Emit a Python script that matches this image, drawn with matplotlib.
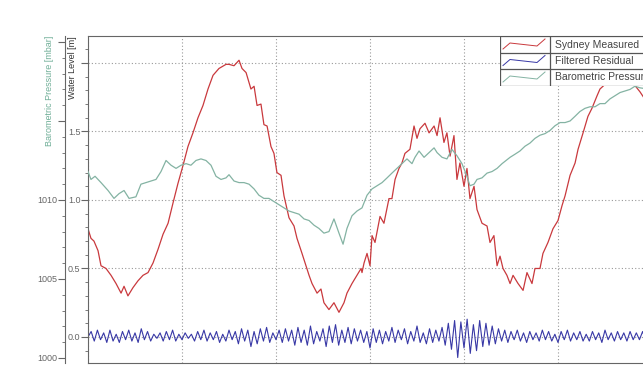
import numpy as np
import matplotlib
matplotlib.use('Agg')
import matplotlib.pyplot as plt
from matplotlib.ticker import MultipleLocator, FuncFormatter

# Sydney measured water level [m], time in hours
sydney_t = [0.00, 0.19, 0.38, 0.64, 0.83, 1.15, 1.47, 1.79, 2.11, 2.30, 2.55, 2.87, 3.19, 3.51,
            3.83, 4.15, 4.47, 4.79, 5.11, 5.43, 5.74, 6.06, 6.38, 6.70, 7.02, 7.34, 7.66, 7.98,
            8.36, 8.81, 9.00, 9.32, 9.64, 9.83, 10.09, 10.40, 10.60, 10.79, 11.04, 11.23, 11.43,
            11.68, 11.87, 12.06, 12.32, 12.51, 12.83, 13.15, 13.34, 13.66, 13.91, 14.11, 14.30,
            14.62, 14.87, 15.06, 15.38, 15.70, 16.02, 16.34, 16.53, 16.85, 17.17, 17.43, 17.49,
            17.62, 17.81, 18.00, 18.13, 18.32, 18.64, 18.89, 19.21, 19.40, 19.60, 19.85, 20.04,
            20.23, 20.55, 20.81, 21.00, 21.19, 21.51, 21.77, 22.09, 22.28, 22.47, 22.72, 22.91,
            23.11, 23.36, 23.55, 23.74, 24.00, 24.19, 24.38, 24.64, 24.83, 25.15, 25.47, 25.66,
            25.91, 26.11, 26.30, 26.49, 26.74, 26.94, 27.13, 27.45, 27.77, 28.02, 28.34, 28.53,
            28.85, 29.04, 29.36, 29.68, 30.00, 30.26, 30.45, 30.77, 31.09, 31.28, 31.60, 31.91,
            32.17, 32.49, 32.68, 32.87, 33.32, 33.96, 34.60, 35.23, 35.87]
sydney = [0.79, 0.72, 0.70, 0.63, 0.52, 0.50, 0.45, 0.39, 0.32, 0.37, 0.30, 0.36, 0.41, 0.45,
          0.47, 0.54, 0.64, 0.75, 0.83, 0.98, 1.12, 1.25, 1.39, 1.49, 1.60, 1.69, 1.81, 1.91,
          1.96, 1.99, 1.99, 1.98, 2.02, 1.96, 1.93, 1.81, 1.83, 1.69, 1.70, 1.55, 1.54,
          1.39, 1.34, 1.20, 1.18, 1.03, 0.87, 0.81, 0.72, 0.61, 0.52, 0.45, 0.39,
          0.32, 0.35, 0.25, 0.20, 0.25, 0.18, 0.25, 0.32, 0.39, 0.45, 0.50, 0.47,
          0.54, 0.61, 0.52, 0.74, 0.69, 0.88, 0.83, 1.01, 1.01, 1.15, 1.23, 1.27,
          1.34, 1.37, 1.54, 1.45, 1.52, 1.56, 1.49, 1.54, 1.47, 1.60, 1.42, 1.49,
          1.32, 1.47, 1.15, 1.27, 1.10, 1.23, 1.01, 1.10, 0.93, 0.83, 0.81, 0.69,
          0.74, 0.52, 0.59, 0.50, 0.45, 0.39, 0.45, 0.39, 0.34, 0.47, 0.39, 0.50,
          0.50, 0.61, 0.69, 0.79, 0.85, 0.96, 1.03, 1.18, 1.27, 1.37, 1.49, 1.61,
          1.67, 1.76, 1.81, 1.83, 1.88, 1.89, 1.88, 1.79, 1.68]

# Barometric pressure [mbar]
baro_t = [0.00, 0.19, 0.45, 0.83, 1.28, 1.66, 1.98, 2.30, 2.62, 3.06, 3.38, 3.70, 4.02, 4.34,
          4.66, 4.98, 5.30, 5.62, 5.94, 6.26, 6.57, 6.89, 7.21, 7.53, 7.85, 8.17, 8.49, 8.81,
          9.00, 9.32, 9.64, 9.96, 10.28, 10.60, 10.91, 11.23, 11.55, 11.87, 12.19, 12.51,
          12.83, 13.15, 13.47, 13.79, 14.11, 14.43, 14.74, 15.06, 15.38, 15.70, 16.02, 16.28,
          16.53, 16.85, 17.17, 17.49, 17.81, 18.13, 18.45, 18.77, 19.09, 19.40, 19.72, 20.04,
          20.36, 20.68, 20.87, 21.13, 21.45, 21.77, 22.09, 22.28, 22.60, 22.91, 23.23, 23.55,
          23.87, 24.19, 24.38, 24.64, 24.83, 25.15, 25.47, 25.79, 26.11, 26.43, 26.94, 27.26,
          27.57, 27.89, 28.21, 28.53, 28.85, 29.17, 29.49, 29.81, 30.13, 30.45, 30.77, 31.09,
          31.40, 31.72, 32.04, 32.36, 32.68, 33.00, 33.32, 33.64, 33.96, 34.28, 34.60, 34.91,
          35.23, 35.87]
baro = [1011.8, 1011.3, 1011.5, 1011.1, 1010.6, 1010.1, 1010.4, 1010.6, 1010.1, 1010.2, 1011.0,
        1011.1, 1011.2, 1011.3, 1011.8, 1012.5, 1012.2, 1012.0, 1012.2, 1012.3, 1012.2, 1012.5,
        1012.6, 1012.5, 1012.2, 1011.5, 1011.3, 1011.4, 1011.6, 1011.2, 1011.1, 1011.1, 1011.0,
        1010.7, 1010.3, 1010.1, 1010.1, 1009.9, 1009.7, 1009.5, 1009.3, 1009.2, 1009.1, 1008.8,
        1008.7, 1008.4, 1008.2, 1007.9, 1008.0, 1008.8, 1007.9, 1007.2, 1008.2, 1009.0, 1009.3,
        1009.5, 1010.3, 1010.7, 1010.9, 1011.1, 1011.4, 1011.7, 1012.0, 1012.3, 1012.6, 1012.3,
        1012.7, 1013.1, 1012.7, 1013.0, 1013.3, 1013.0, 1012.7, 1012.6, 1013.2, 1012.8, 1012.3,
        1011.5, 1010.9, 1011.0, 1011.3, 1011.4, 1011.7, 1011.8, 1012.0, 1012.3, 1012.7, 1012.9,
        1013.1, 1013.4, 1013.6, 1013.9, 1014.1, 1014.2, 1014.4, 1014.7, 1014.9, 1014.9, 1015.0,
        1015.3, 1015.6, 1015.8, 1015.9, 1015.9, 1016.1, 1016.1, 1016.4, 1016.6, 1016.8, 1016.9,
        1017.0, 1017.2, 1017.1, 1017.0]

# Filtered residual [m], one value every 0.2 h
residual = [0.00, 0.04, -0.03, 0.05, -0.02, 0.03, -0.04, 0.05, -0.03, 0.02, -0.04, 0.04, -0.02,
            0.05, -0.03, 0.03, -0.04, 0.06, -0.02, 0.04, -0.03, 0.02, -0.01, 0.03, -0.03, 0.04,
            -0.02, 0.05, -0.03, 0.02, -0.02,
            0.03, -0.01, 0.02, -0.03, 0.04, -0.02, 0.05, -0.03, 0.03, -0.02, 0.04, -0.04, 0.02,
            -0.03, 0.05, -0.02, 0.04, -0.05, 0.06, -0.03, 0.05, -0.07, 0.04, -0.05, 0.06, -0.03,
            0.07, -0.04, 0.03, -0.02,
            0.05, -0.04, 0.06, -0.03, 0.05, -0.06, 0.07, -0.04, 0.05, -0.06, 0.08, -0.05, 0.04,
            -0.03, 0.06, -0.07, 0.08, -0.04, 0.09, -0.06, 0.05, -0.04, 0.07, -0.05, 0.06, -0.03,
            0.05, -0.04, 0.04, -0.08,
            0.06, -0.04, 0.05, -0.05, 0.04, -0.03, 0.07, -0.04, 0.05, -0.02, 0.06, -0.05, 0.04,
            -0.03, 0.08, -0.04, 0.03, -0.05, 0.06, -0.04, 0.05, -0.03, 0.07, -0.06,
            0.10, -0.09, 0.12, -0.15, 0.11, -0.08, 0.13, -0.12, 0.09, -0.10, 0.12, -0.07, 0.10,
            -0.06, 0.08, -0.05,
            0.06, -0.03, 0.05, -0.04, 0.04, -0.02, 0.05, -0.03, 0.03, -0.04, 0.04, -0.02, 0.03,
            -0.03, 0.05, -0.02, 0.04, -0.03, 0.02, -0.04, 0.04, -0.02, 0.05, -0.03, 0.03, -0.02,
            0.04, -0.03, 0.02, -0.03, 0.04, -0.02, 0.03, -0.04, 0.05, -0.02, 0.03, -0.03, 0.04,
            -0.02, 0.03, -0.03, 0.04, -0.02, 0.03, -0.02, 0.04, -0.03, 0.03, -0.02]
residual_t = np.arange(len(residual)) * 0.2

labels = ['Sydney Measured', 'Filtered Residual', 'Barometric Pressure']
red, blue, teal = '#c9393d', '#3838a6', '#84b3a3'
grey = '#666666'

plt.rcParams['font.family'] = ['Liberation Sans', 'DejaVu Sans']
W, H = 643, 365
fig = plt.figure(figsize=(W / 100, H / 100), dpi=100)
ax = fig.add_axes([88 / W, 2 / H, (720 - 88) / W, (363 - 36) / H])

ax.plot(sydney_t, sydney, color=red, lw=0.9)
ax.plot(residual_t, residual, color=blue, lw=0.8)
ax.set_xlim(0, (720 - 88) / 94 * 6)
ax.set_ylim(-0.19, 2.197)
ax.xaxis.set_major_locator(MultipleLocator(6))
ax.yaxis.set_major_locator(MultipleLocator(0.5))
ax.yaxis.set_minor_locator(MultipleLocator(0.1))
ax.yaxis.set_major_formatter(FuncFormatter(lambda v, p: '' if v > 1.9 else f'{v:.1f}'))
ax.grid(True, which='major', color='#999999', lw=0.8, ls=(0, (1, 2)))
ax.tick_params(axis='y', which='major', length=5, pad=0.5, labelsize=6.5, colors=grey)
ax.tick_params(axis='y', which='minor', length=2.5, color=grey)
ax.tick_params(axis='x', labelbottom=False, length=0)
for s in ['left', 'top', 'bottom']:
    ax.spines[s].set_color(grey)
ax.spines['right'].set_visible(False)
ax.set_ylabel('Water Level [m]', loc='top', fontsize=6.5, color='#333333')
ax.yaxis.set_label_coords(-11 / 632, 1.0)

ax2 = ax.twinx()
ax2.plot(baro_t, baro, color=teal, lw=0.9)
ax2.set_ylim(999.68, 1020.38)
ax2.yaxis.set_ticks_position('left')
ax2.yaxis.set_label_position('left')
ax2.spines['left'].set_position(('outward', 23 * 0.72))
ax2.spines['left'].set_color(grey)
for s in ['right', 'top', 'bottom']:
    ax2.spines[s].set_visible(False)
ax2.yaxis.set_major_locator(MultipleLocator(5))
ax2.yaxis.set_minor_locator(MultipleLocator(1))
ax2.yaxis.set_major_formatter(FuncFormatter(lambda v, p: '' if v > 1012 else f'{v:.0f}'))
ax2.tick_params(axis='y', which='major', length=5, pad=0.5, labelsize=6.5, colors=grey)
ax2.tick_params(axis='y', which='minor', length=2.5, color=grey)
ax2.set_ylabel('Barometric Pressure [mbar]', loc='top', fontsize=6.5, color='#6fae97')
ax2.yaxis.set_label_coords(-34 / 632, 1.0)

# legend drawn as a small table in the top right corner
lg = fig.add_axes([500 / W, (H - 86) / H, 200 / W, 50 / H])
lg.set_xlim(0, 200)
lg.set_ylim(50, 0)
lg.axis('off')
lg.add_patch(plt.Rectangle((0, 0), 199, 49.5, facecolor='white', edgecolor='#555555', lw=0.9))
for yy in [16.5, 33]:
    lg.plot([0, 199], [yy, yy], color='#555555', lw=0.9)
lg.plot([50, 50], [0, 49.5], color='#555555', lw=0.9)
for i, (lab, c) in enumerate(zip(labels, [red, blue, teal])):
    y0 = i * 16.5
    lg.plot([3, 10, 37, 45], [y0 + 13, y0 + 7, y0 + 10, y0 + 3], color=c, lw=0.7)
    lg.text(55, y0 + 8.5, lab, fontsize=7.5, color='#444444', va='center', ha='left')

fig.savefig('out.png', dpi=100)
